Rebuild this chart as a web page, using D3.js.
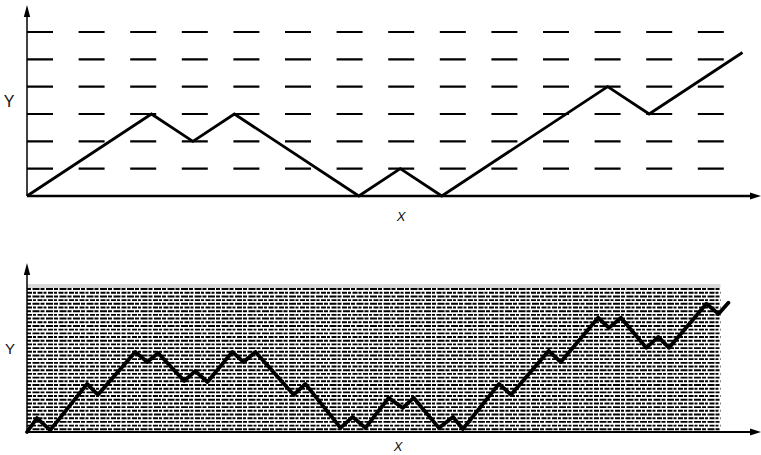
<!DOCTYPE html>
<html>
<head>
<meta charset="utf-8">
<script src="https://cdn.jsdelivr.net/npm/d3@7/dist/d3.min.js"></script>
<style>
  body { margin: 0; background: #fff; }
  text { font-family: "Liberation Sans", Arial, sans-serif; fill: #111; }
</style>
</head>
<body>
<div class="chart"></div>
<script>
// first stage (generator)
var topX = [0, 3, 4, 5, 8, 9, 10, 14, 15, 17.25];
var topY = [0, 3, 2, 3, 0, 1, 0, 4, 3, 5.25];
var topLevels = [0, 1, 2, 3, 4, 5, 6];

// second stage
var botX = [0, 0.24, 0.56, 1.45, 1.71, 2.61, 2.90, 3.16, 3.79, 4.06, 4.35, 4.95, 5.22, 5.51,
            6.43, 6.71, 7.56, 7.85, 8.16, 8.72, 9.06, 9.32, 9.93, 10.27, 10.51, 11.38, 11.67,
            12.58, 12.87, 13.77, 14.03, 14.32, 14.93, 15.22, 15.48, 16.38, 16.67, 16.91];
var botY = [0, 0.51, 0.07, 1.76, 1.36, 2.93, 2.56, 2.89, 1.87, 2.23, 1.83, 2.93, 2.56, 2.93,
            1.36, 1.76, 0.15, 0.55, 0.15, 1.25, 0.88, 1.25, 0.15, 0.55, 0.11, 1.76, 1.36,
            2.97, 2.56, 4.18, 3.81, 4.18, 3.08, 3.48, 3.08, 4.69, 4.32, 4.73];

var width = 761, height = 455;

var svg = d3.select('.chart')
    .append("svg")
    .attr("width", width)
    .attr("height", height);

var x = d3.scaleLinear().domain([0, 17.6]).range([27, 757]);
var yTop = d3.scaleLinear().domain([0, 6]).range([196, 32]);
var yBot = d3.scaleLinear().domain([0, 6]).range([432, 268]);

var line = function (yScale) {
    return d3.line()
        .x(function (d) { return x(d[0]); })
        .y(function (d) { return yScale(d[1]); });
};

// ---- top panel ----
svg.append("g")
    .selectAll("line")
    .data(topLevels)
    .enter()
    .append("line")
    .attr("x1", x(0))
    .attr("x2", x(16.8))
    .attr("y1", function (d) { return yTop(d); })
    .attr("y2", function (d) { return yTop(d); })
    .attr("stroke", "#000")
    .attr("stroke-width", 2.2)
    .attr("stroke-dasharray", "26,25.6");

svg.append("path")
    .datum(d3.zip(topX, topY))
    .attr("d", line(yTop))
    .attr("fill", "none")
    .attr("stroke", "#000")
    .attr("stroke-width", 2.8)
    .attr("stroke-linejoin", "miter");

drawAxes(yTop(0), 5, 17, 2.6);

svg.append("text").attr("x", 9).attr("y", 107)
    .attr("text-anchor", "middle").attr("font-size", 16).text("Y");
svg.append("text").attr("x", 401).attr("y", 221)
    .attr("text-anchor", "middle").attr("font-size", 13).attr("font-style", "italic").text("X");

// ---- bottom panel ----
var gridB = d3.range(0.1, 5.35, 0.135);

svg.append("rect")
    .attr("x", x(0)).attr("y", 284)
    .attr("width", x(16.72) - x(0)).attr("height", 4)
    .attr("fill", "#d9d9d9");

svg.append("g")
    .selectAll("line")
    .data(gridB)
    .enter()
    .append("line")
    .attr("x1", x(0))
    .attr("x2", x(16.72))
    .attr("y1", function (d) { return yBot(d); })
    .attr("y2", function (d) { return yBot(d); })
    .attr("stroke", "#000")
    .attr("stroke-width", 1.9)
    .attr("stroke-dasharray", function (d, i) { return i % 2 ? "5,1,3,1.5" : "4,1.5,7,1"; });

svg.append("path")
    .datum(d3.zip(botX, botY))
    .attr("d", line(yBot))
    .attr("fill", "none")
    .attr("stroke", "#000")
    .attr("stroke-width", 3.8)
    .attr("stroke-linejoin", "round")
    .attr("stroke-linecap", "round");

drawAxes(yBot(0), 263, 275, 2.2);

svg.append("text").attr("x", 10).attr("y", 354)
    .attr("text-anchor", "middle").attr("font-size", 15).text("Y");
svg.append("text").attr("x", 398).attr("y", 451)
    .attr("text-anchor", "middle").attr("font-size", 13).attr("font-style", "italic").text("X");

function drawAxes(y0, tipY, baseY, xw) {
    var x0 = x(0);
    // x axis
    svg.append("line")
        .attr("x1", x0).attr("x2", 752)
        .attr("y1", y0).attr("y2", y0)
        .attr("stroke", "#000").attr("stroke-width", xw);
    svg.append("path")
        .attr("d", "M761," + y0 + "L750," + (y0 - 3.5) + "L750," + (y0 + 3.5) + "Z")
        .attr("fill", "#000");
    // y axis
    svg.append("line")
        .attr("x1", x0).attr("x2", x0)
        .attr("y1", y0).attr("y2", baseY)
        .attr("stroke", "#000").attr("stroke-width", 1.5);
    svg.append("path")
        .attr("d", "M" + x0 + "," + tipY + "L" + (x0 - 3.2) + "," + baseY + "L" + (x0 + 3.2) + "," + baseY + "Z")
        .attr("fill", "#000");
}
</script>
</body>
</html>
